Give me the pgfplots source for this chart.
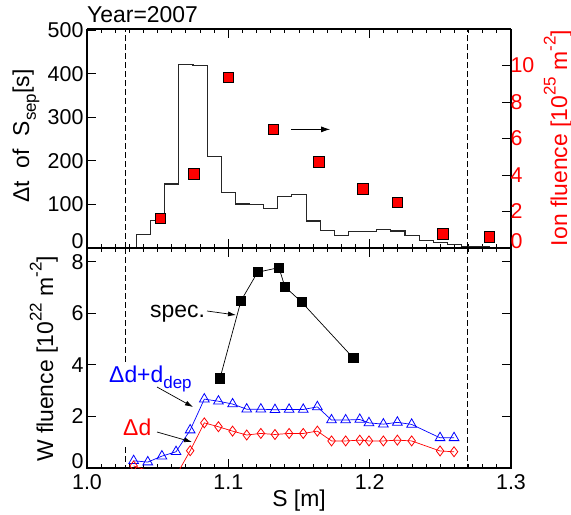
\documentclass[border=0pt]{standalone}
\usepackage{fontspec}
\setmainfont{Liberation Sans}
\usepackage{pgfplots}
\pgfplotsset{compat=1.18}
\usetikzlibrary{arrows.meta}

\newcommand\lf{\fontsize{23}{27}\selectfont}
\newcommand\tf{\fontsize{21.5}{25}\selectfont}
\newcommand\up[1]{\raisebox{0.5em}{\fontsize{17}{17}\selectfont #1}}
\newcommand\dn[1]{\raisebox{-0.3em}{\fontsize{17}{17}\selectfont #1}}

\pgfplotsset{
  idl/.style={
    scale only axis, width=424bp,
    xmin=1.0, xmax=1.3,
    axis line style={line width=1.1bp},
    every tick/.style={line width=0.9bp, black},
    major tick length=9bp, minor tick length=4bp,
    tick align=inside,
    tick label style={font=\tf},
    /pgf/number format/assume math mode=true,
    xtick={1.0,1.1,1.2,1.3}, minor x tick num=9,
  },
  zeroshift/.style={extra y ticks={0},
    extra y tick style={yticklabel style={yshift=7bp}}},
}

\begin{document}
\begin{tikzpicture}
\path[use as bounding box] (0,0) rectangle (571bp,-515bp);

% top panel, left axis: time spent at each strike point position
\begin{axis}[idl, at={(87bp,-248bp)}, anchor=south west, height=219bp,
  ymin=0, ymax=503, ytick={100,200,300,400,500}, zeroshift,
  axis y line*=left, xticklabels={}]
\addplot[const plot, line width=1.1bp, black!85] coordinates {
  (1.035,0) (1.035,32) (1.045,63) (1.055,147) (1.065,422) (1.075,420)
  (1.085,211) (1.095,127) (1.105,101) (1.115,100) (1.125,90) (1.135,119)
  (1.145,122) (1.155,62) (1.165,41) (1.175,29) (1.185,38) (1.195,37)
  (1.205,42) (1.215,39) (1.225,29) (1.235,18) (1.245,13) (1.255,8)
  (1.265,4) (1.275,3) (1.285,2) (1.3,1)
};
\draw[line width=0.8bp, dash pattern=on 6bp off 3bp] (axis cs:1.027,0) -- (axis cs:1.027,503);
\draw[line width=0.8bp, dash pattern=on 6bp off 3bp] (axis cs:1.269,0) -- (axis cs:1.269,503);
\end{axis}

% top panel, right axis: ion fluence
\begin{axis}[idl, at={(87bp,-248bp)}, anchor=south west, height=219bp,
  ymin=0, ymax=12, ytick={2,4,6,8,10}, zeroshift,
  axis y line*=right, axis x line=none,
  yticklabel style={red, xshift=-4bp}]
\addplot[only marks, mark=square*, mark size=5.3bp,
  mark options={fill=red, draw=black, line width=0.8bp}] coordinates {
  (1.052,1.63) (1.0757,4.05) (1.100,9.35) (1.132,6.5) (1.164,4.73)
  (1.195,3.23) (1.2196,2.5) (1.252,0.77) (1.2847,0.62)
};
\draw[-{Latex[length=9bp,width=6bp]}, line width=0.8bp] (axis cs:1.1445,6.5) -- (axis cs:1.172,6.5);
\end{axis}

% bottom panel: W fluence
\begin{axis}[idl, at={(87bp,-248bp)}, anchor=north west, height=220bp,
  ymin=0, ymax=8.53, ytick={2,4,6,8}, zeroshift,
  clip marker paths=true,
  xticklabel style={yshift=-3bp, /pgf/number format/.cd, fixed, fixed zerofill, precision=1}]
\draw[line width=0.8bp, dash pattern=on 6bp off 3bp] (axis cs:1.027,8.53) -- (axis cs:1.027,4.1);
\draw[line width=0.8bp, dash pattern=on 6bp off 3bp] (axis cs:1.027,0.8) -- (axis cs:1.027,0);
\draw[line width=0.8bp, dash pattern=on 6bp off 3bp] (axis cs:1.269,8.53) -- (axis cs:1.269,0);
\addplot[black, line width=0.7bp, mark=square*, mark size=4.6bp] coordinates {
  (1.0941,3.48) (1.109,6.49) (1.1207,7.59) (1.1358,7.77) (1.140,7.03)
  (1.1519,6.43) (1.1885,4.26)
};
\addplot[blue, line width=0.7bp, mark=triangle, mark size=5.6bp,
  mark options={line width=0.8bp}] coordinates {
  (1.033,0.28) (1.043,0.23) (1.053,0.46) (1.063,0.63) (1.073,1.47)
  (1.083,2.67) (1.093,2.59) (1.103,2.48) (1.113,2.28) (1.123,2.28)
  (1.133,2.26) (1.143,2.27) (1.153,2.27) (1.163,2.37) (1.173,1.86)
  (1.183,1.86) (1.193,1.88) (1.1995,1.75) (1.2097,1.70) (1.2196,1.77)
  (1.2297,1.69) (1.2498,1.17) (1.2597,1.17)
};
\addplot[red, line width=0.7bp, mark=diamond, mark size=5bp,
  mark options={line width=0.8bp}] coordinates {
  (1.033,0.08) (1.043,-0.1) (1.053,-0.2) (1.063,-0.3) (1.073,0.67)
  (1.083,1.75) (1.093,1.60) (1.103,1.43) (1.113,1.28) (1.123,1.34)
  (1.133,1.30) (1.143,1.34) (1.153,1.34) (1.163,1.43) (1.173,1.05)
  (1.183,1.05) (1.193,1.08) (1.1995,1.05) (1.2097,1.05) (1.2196,1.08)
  (1.2297,1.05) (1.2498,0.66) (1.2597,0.63)
};
\end{axis}

% titles and axis labels
\node[font=\lf, anchor=base west, inner sep=0] at (87bp,-22bp) {Year=2007};
\node[font=\lf, rotate=90, anchor=base, inner sep=0] at (29bp,-136bp)
  {Δt\ \ of\ \ S\dn{sep}[s]};
\node[font=\lf, rotate=90, anchor=base, inner sep=0, red] at (567bp,-138bp)
  {Ion fluence [10\up{25} m\up{-2}]};
\node[font=\lf, rotate=90, anchor=base, inner sep=0] at (53bp,-359bp)
  {W fluence [10\up{22} m\up{-2}]};
\node[font=\lf, anchor=base, inner sep=0] at (299bp,-506bp) {S [m]};

% annotations in the bottom panel
\node[font=\lf, anchor=base west, inner sep=0] at (150bp,-317bp) {spec.};
\draw[-{Latex[length=8bp,width=5bp]}, line width=0.7bp] (207bp,-311bp) -- (236bp,-315bp);
\node[font=\lf, anchor=base west, inner sep=0, blue] at (109bp,-382bp)
  {Δd+d\dn{dep}};
\draw[-{Latex[length=8bp,width=5bp]}, line width=0.7bp] (157bp,-387bp) -- (193bp,-407bp);
\node[font=\lf, anchor=base west, inner sep=0, red] at (123bp,-435bp) {Δd};
\draw[-{Latex[length=8bp,width=5bp]}, line width=0.7bp] (157bp,-432bp) -- (192bp,-442bp);
\end{tikzpicture}
\end{document}
